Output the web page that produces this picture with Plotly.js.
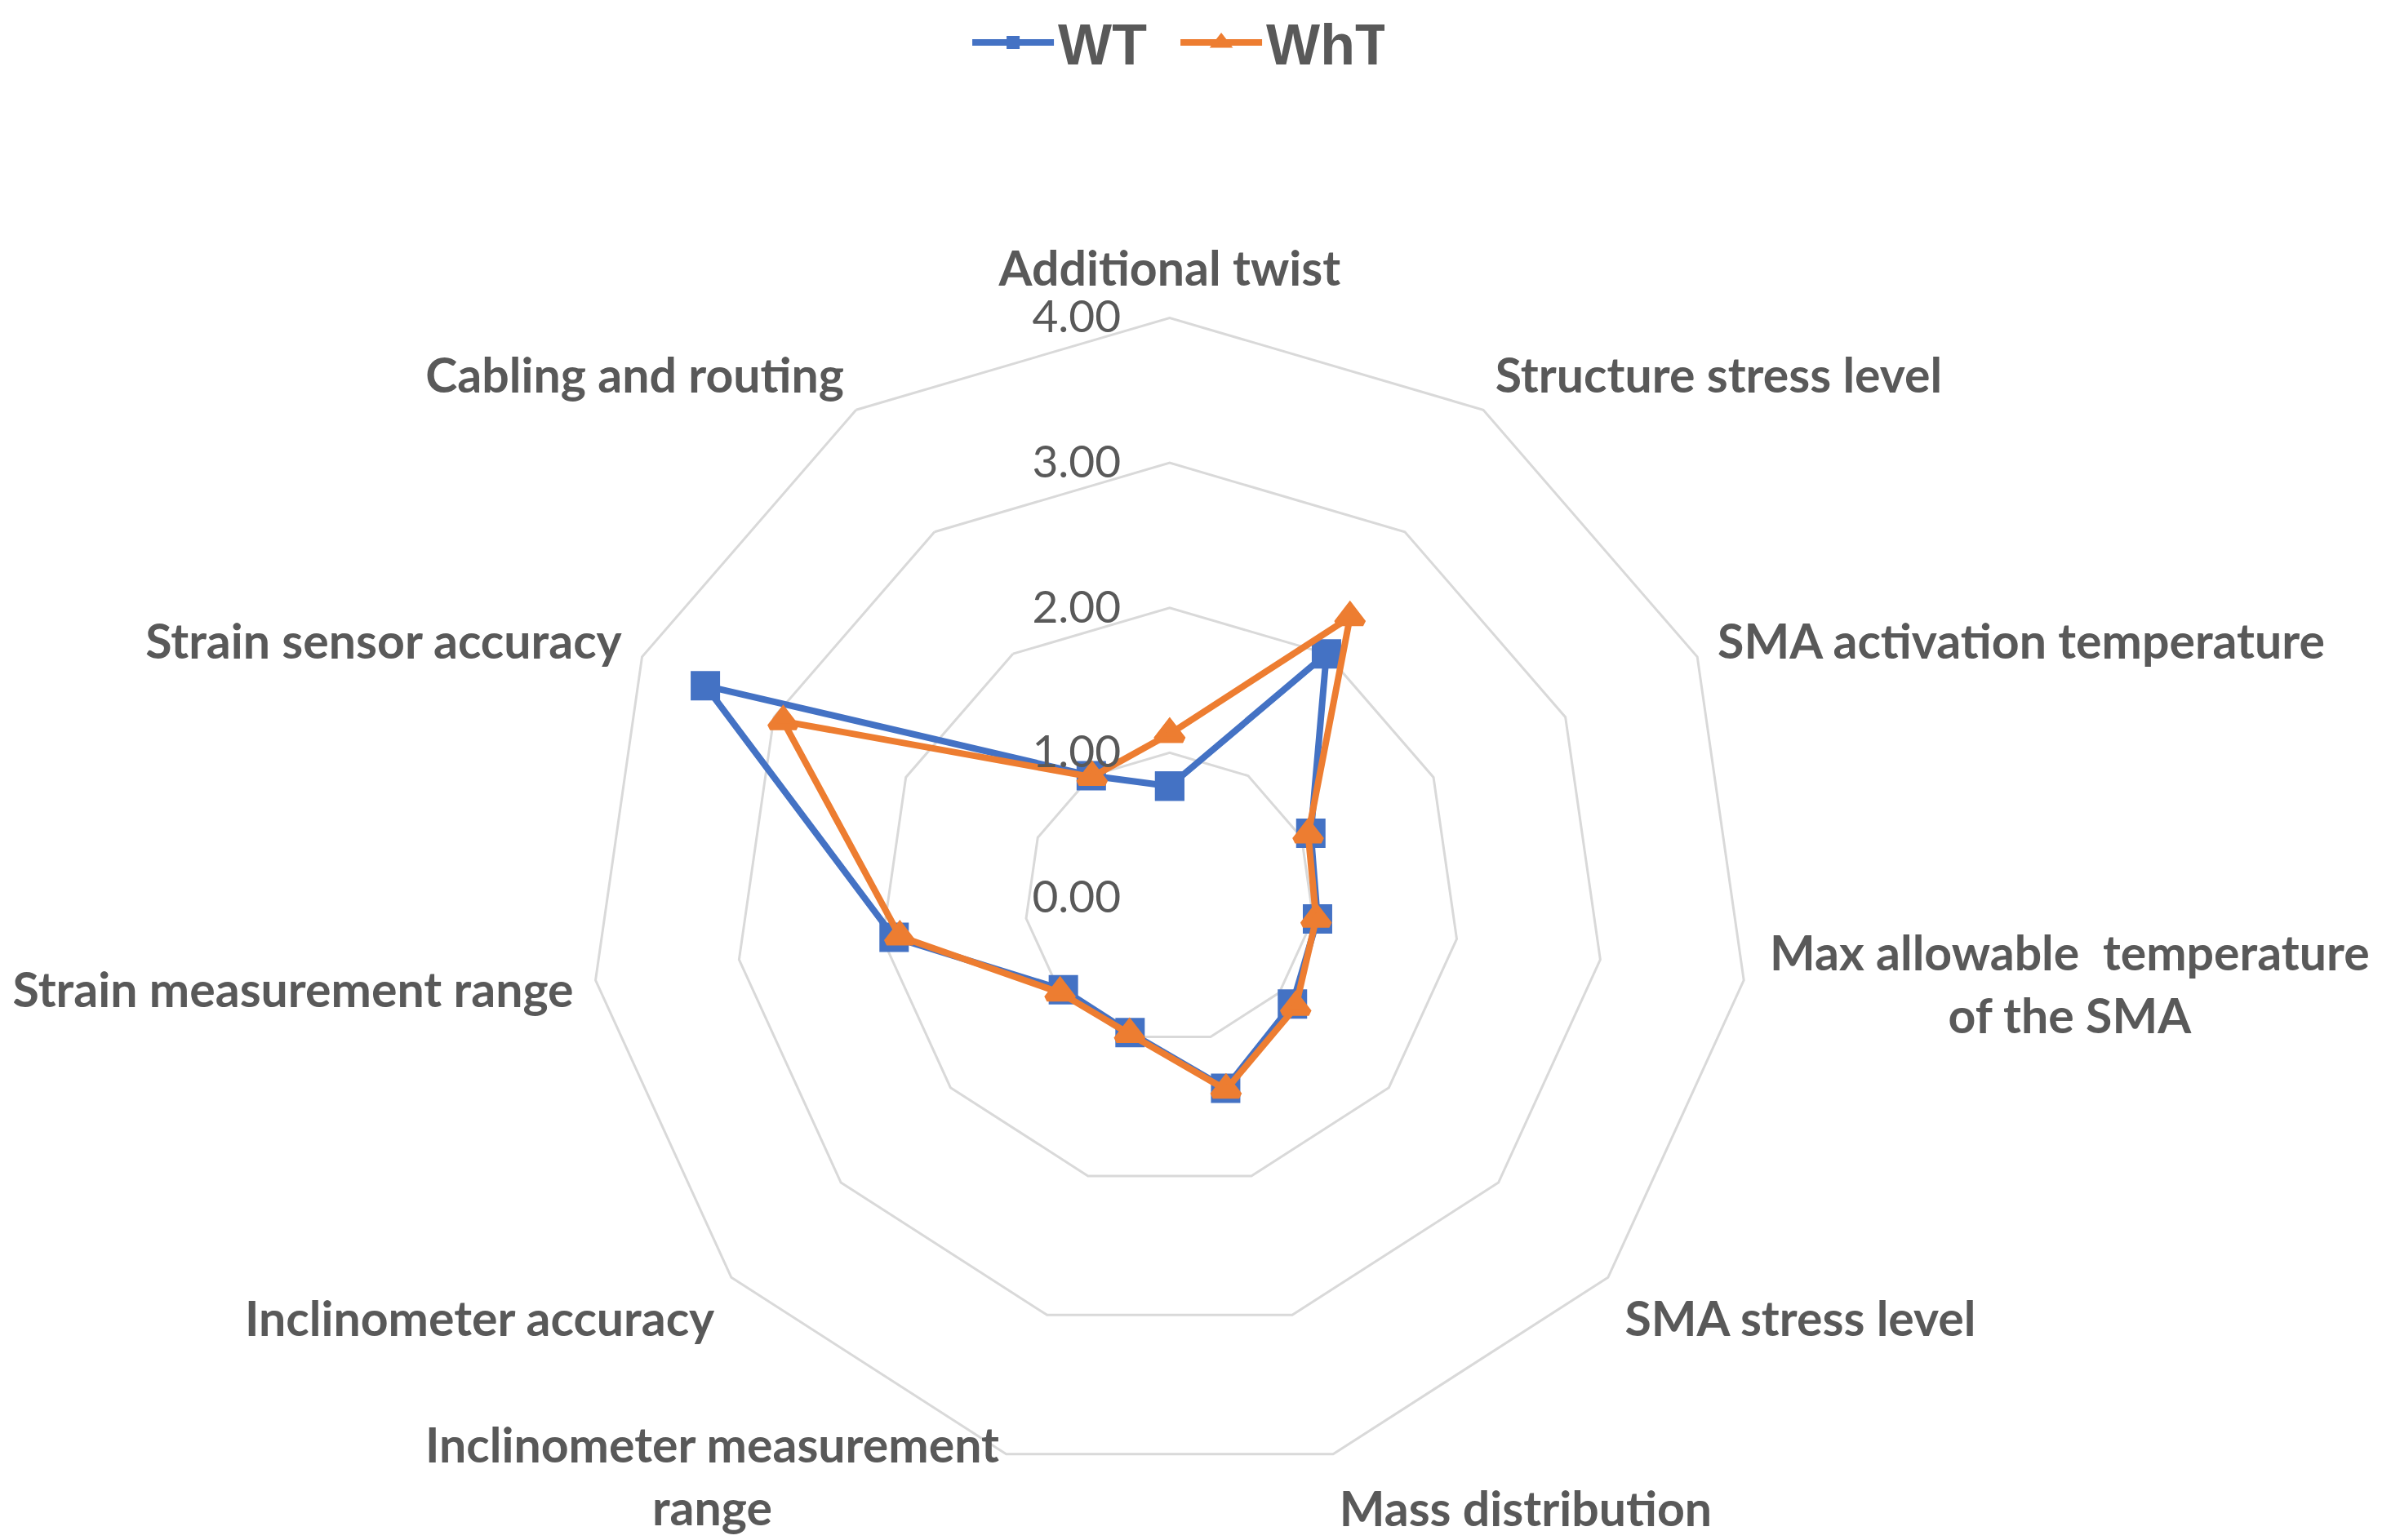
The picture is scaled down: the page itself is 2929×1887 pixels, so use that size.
<!DOCTYPE html>
<html><head><meta charset="utf-8">
<script src="https://cdn.plot.ly/plotly-3.0.1.min.js"></script>
<style>html,body{margin:0;padding:0;background:#fff;}#chart{width:2929px;height:1887px;}</style>
</head><body><div id="chart"></div>
<script>
const categories = ["Additional twist","Structure stress level","SMA activation temperature","Max allowable  temperature<br>of the SMA","SMA stress level","Mass distribution","Inclinometer measurement<br>range","Inclinometer accuracy","Strain measurement range","Strain sensor accuracy","Cabling and routing"];
const wtValues = [0.77, 2.0, 1.07, 1.03, 1.12, 1.37, 0.97, 0.97, 1.92, 3.52, 1.0];
const whtValues = [1.13, 2.3, 1.05, 1.02, 1.15, 1.38, 0.98, 1.0, 1.88, 2.93, 0.99];
const radialTicks = [0, 1, 2, 3, 4];
const radialTickLabels = ["0.00", "1.00", "2.00", "3.00", "4.00"];
// categories whose labels are centred blocks placed as annotations (like the reference)
const centredLabels = ["Max allowable  temperature<br>of the SMA", "Inclinometer measurement<br>range"];

const close = a => a.concat([a[0]]);
const labelFont = {family:'Lato, sans-serif', size:59, color:'#595959', weight:'bold'};

const traces = [
  {type:'scatterpolar', name:'WT', r:close(wtValues), theta:close(categories), mode:'lines+markers',
   line:{color:'#4472C4', width:8}, marker:{symbol:'square', size:36, color:'#4472C4'}},
  {type:'scatterpolar', name:'WhT', r:close(whtValues), theta:close(categories), mode:'lines+markers',
   line:{color:'#ED7D31', width:8}, marker:{symbol:'triangle-up', size:28, color:'#ED7D31', line:{color:'#ED7D31', width:8}}}
];

const layout = {
  width:2929, height:1887, margin:{l:0,r:0,t:0,b:0}, paper_bgcolor:'#fff',
  showlegend:true,
  legend:{orientation:'h', x:0.492, xanchor:'center', y:1.0, yanchor:'top',
          font:{family:'Liberation Sans, Arial, sans-serif', size:70, color:'#595959', weight:'bold'},
          itemwidth:100, entrywidth:140},
  polar:{
    domain:{x:[0.2466,0.7318], y:[0.0405,0.7936]},
    gridshape:'linear', bgcolor:'#fff',
    angularaxis:{direction:'clockwise', rotation:90, showline:true, linecolor:'#d9d9d9', linewidth:3,
      showgrid:false, ticks:'outside', ticklen:14, tickcolor:'rgba(0,0,0,0)',
      tickvals:categories, ticktext:categories.map(c => centredLabels.includes(c) ? '' : c),
      tickfont:labelFont},
    radialaxis:{range:[0,4], angle:90, side:'counterclockwise', tickvals:radialTicks, ticktext:radialTickLabels,
      showline:false, gridcolor:'#d9d9d9', gridwidth:3, ticks:'outside', ticklen:40, tickcolor:'rgba(0,0,0,0)',
      tickangle:90, tickfont:{family:'Lato, sans-serif', size:55, color:'#595959'}}
  },
  annotations:[
    {text:centredLabels[0], xref:'paper', yref:'paper', x:0.8655, y:0.3614, xanchor:'center', yanchor:'middle',
     align:'center', showarrow:false, font:labelFont},
    {text:centredLabels[1], xref:'paper', yref:'paper', x:0.2978, y:0.0419, xanchor:'center', yanchor:'middle',
     align:'center', showarrow:false, font:labelFont}
  ]
};
Plotly.newPlot('chart', traces, layout, {displayModeBar:false, staticPlot:true});
</script></body></html>
